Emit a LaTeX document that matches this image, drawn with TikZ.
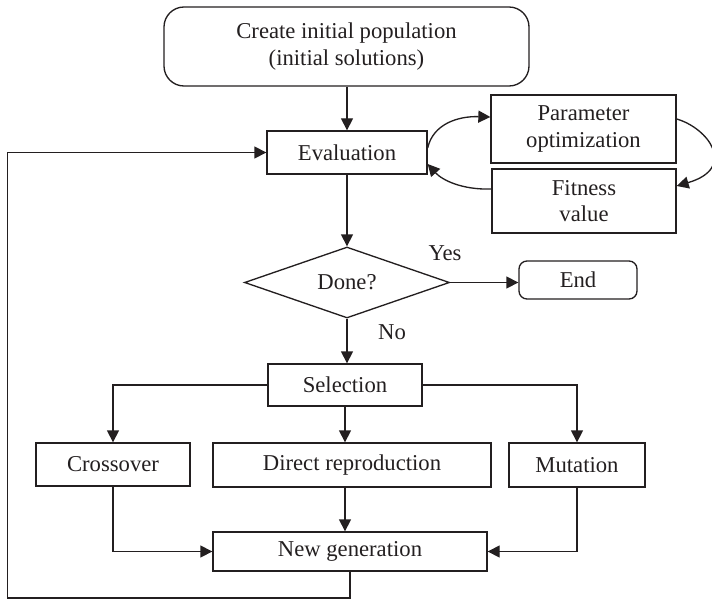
\documentclass[tikz,border=0pt]{standalone}
\usepackage{fontspec}
\setmainfont{Liberation Serif}
\usetikzlibrary{shapes.geometric,arrows.meta}
\definecolor{ink}{HTML}{231F20}
\newdimen\pu
\pu=0.75pt
\begin{document}
\begin{tikzpicture}[x=0.75pt,y=-0.75pt,
  every node/.style={font=\fontsize{17}{20}\selectfont, text=ink},
  box/.style={draw=ink, line width=1pt, inner sep=0pt, align=center},
  link/.style={draw=ink, line width=1pt, -{Triangle[length=9pt,width=9pt]}}]
\useasboundingbox (0,0) rectangle (712,599);

% process boxes
\node[box, rounded corners=15pt, minimum width=365\pu, minimum height=79\pu] (start) at (346.5,46.5)
  {Create initial population\\(initial solutions)};
\node[box, minimum width=160\pu, minimum height=43\pu] (eval) at (347,152.5) {Evaluation};
\node[box, minimum width=185\pu, minimum height=68\pu] (param) at (583.5,129) {Parameter\\optimization};
\node[box, minimum width=184\pu, minimum height=64\pu] (fit) at (584,201) {Fitness\\value};
\node[box, shape=diamond, aspect=2.89, minimum width=205\pu, minimum height=71\pu] (done) at (347,282.5) {Done?};
\node[box, rounded corners=6pt, minimum width=118\pu, minimum height=38\pu] (end) at (578,280) {End};
\node[box, minimum width=154\pu, minimum height=42\pu] (sel) at (345,385) {Selection};
\node[box, minimum width=154\pu, minimum height=43\pu] (cross) at (113,464.5) {Crossover};
\node[box, minimum width=278\pu, minimum height=44\pu] (direct) at (352,465) {Direct reproduction};
\node[box, minimum width=136\pu, minimum height=44\pu] (mut) at (577,465) {Mutation};
\node[box, minimum width=274\pu, minimum height=39\pu] (newgen) at (350,551.5) {New generation};

% branch labels
\node (yes) at (445,253) {Yes};
\node (no) at (392,332) {No};

% main flow
\draw[link] (start.south -| eval.north) -- (eval.north);
\draw[link] (eval.south) -- (done.north);
\draw[link] (done.east) -- (end.west |- done.east);
\draw[link] (done.south) -- (done.south |- sel.north);
\draw[link] (sel.west) -| (cross.north);
\draw[link] (sel.south) -- (sel.south |- direct.north);
\draw[link] (sel.east) -| (mut.north);
\draw[link] (cross.south) |- (newgen.west);
\draw[link] (mut.south) |- (newgen.east);
\draw[link] (sel.south |- direct.south) -- (sel.south |- newgen.north);

% loop back to evaluation
\coordinate (corner) at (7.5,598);
\draw[link] (newgen.south) |- (corner) |- (eval.west);

% evaluation cycle
\draw[link] ([yshift=4.5\pu]eval.east) .. controls (433,124) and (458,116) .. ([yshift=12\pu]param.west);
\draw[link] ([yshift=10\pu]param.east) .. controls (708,128) and (738,168) .. ([yshift=15\pu]fit.east);
\draw[link] ([yshift=12\pu]fit.west) .. controls (462,190) and (442,180) .. ([yshift=-11.5\pu]eval.east);
\end{tikzpicture}
\end{document}
